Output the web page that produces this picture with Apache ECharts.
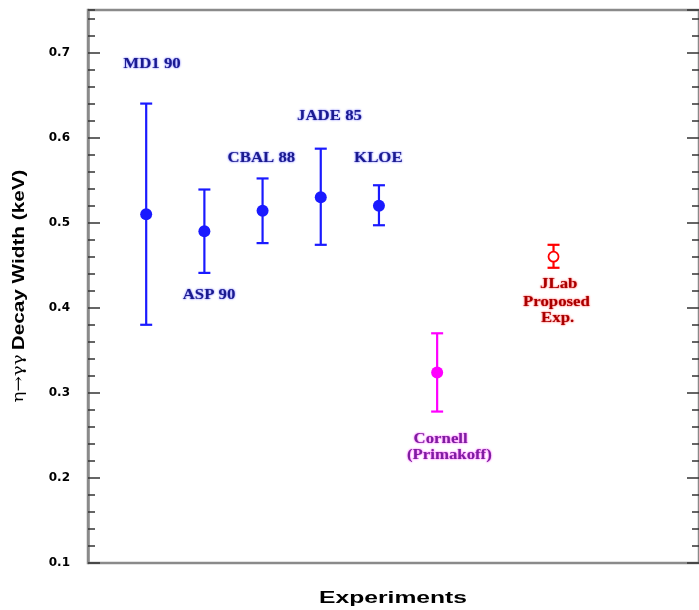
<!DOCTYPE html>
<html>
<head>
<meta charset="utf-8">
<script src="https://cdn.jsdelivr.net/npm/echarts@6/dist/echarts.min.js"></script>
<style>
  html, body { margin: 0; padding: 0; background: #fff; }
  #chart { width: 699px; height: 610px; }
</style>
</head>
<body>
<div id="chart"></div>
<script>
// η→γγ decay width measurements (keV), one entry per experiment
const experiments = ['MD1 90', 'ASP 90', 'CBAL 88', 'JADE 85', 'KLOE', 'Cornell (Primakoff)', 'JLab Proposed Exp.'];
const slots = [1, 2, 3, 4, 5, 6, 8];              // place of each experiment along the axis
const widths = [0.51, 0.49, 0.514, 0.53, 0.52, 0.324, 0.46];
const errLow = [0.38, 0.441, 0.476, 0.474, 0.497, 0.278, 0.447];
const errHigh = [0.64, 0.539, 0.552, 0.587, 0.544, 0.37, 0.474];
const groups = ['past', 'past', 'past', 'past', 'past', 'primakoff', 'proposed'];
const yTicks = [0.1, 0.2, 0.3, 0.4, 0.5, 0.6, 0.7];

const groupStyle = {
  past:      { line: '#1a1aff', text: '#1b1b8e', halo: 'rgba(60,60,255,0.9)' },
  primakoff: { line: '#ff00ff', text: '#7d1fa0', halo: 'rgba(255,0,255,0.9)' },
  proposed:  { line: '#ff0000', text: '#a80000', halo: 'rgba(255,0,0,0.9)' }
};

// text lines next to each measurement, anchored in axis units
const labelLines = [
  { text: 'MD1 90',      at: [1.10, 0.686], g: 'past' },
  { text: 'ASP 90',      at: [2.08, 0.415], g: 'past' },
  { text: 'CBAL 88',     at: [2.98, 0.575], g: 'past' },
  { text: 'JADE 85',     at: [4.15, 0.625], g: 'past' },
  { text: 'KLOE',        at: [4.99, 0.575], g: 'past' },
  { text: 'Cornell',     at: [6.06, 0.245], g: 'primakoff' },
  { text: '(Primakoff)', at: [6.21, 0.226], g: 'primakoff' },
  { text: 'JLab',        at: [8.09, 0.427], g: 'proposed' },
  { text: 'Proposed',    at: [8.05, 0.406], g: 'proposed' },
  { text: 'Exp.',        at: [8.07, 0.387], g: 'proposed' }
];

const Y_MIN = 0.1, Y_MAX = 0.75;

const points = experiments.map((name, i) => ({
  name,
  value: [slots[i], widths[i], errLow[i], errHigh[i]],
  group: groups[i]
}));

function yAxisDef(position, interval, tickLen, showLabel, showLine) {
  return {
    type: 'value', position, min: Y_MIN, max: Y_MAX, interval, offset: 0,
    splitLine: { show: false },
    axisLine: { show: showLine, lineStyle: { color: '#8a8a8a', width: 2.5 } },
    axisTick: { show: true, inside: true, length: tickLen, lineStyle: { color: '#333', width: 1.5 } },
    axisLabel: {
      show: showLabel, showMaxLabel: false, margin: 18,
      color: '#000', fontFamily: 'DejaVu Sans', fontWeight: 'bold', fontSize: 12,
      formatter: v => (yTicks.some(t => Math.abs(t - v) < 1e-9) ? v.toFixed(1) : '')
    }
  };
}

const chart = echarts.init(document.getElementById('chart'), null, { renderer: 'canvas' });

chart.setOption({
  animation: false,
  backgroundColor: '#fff',
  grid: {
    left: 88, right: -1, top: 10, bottom: 47,
    show: true, borderColor: '#8a8a8a', borderWidth: 2.5, backgroundColor: 'transparent'
  },
  xAxis: {
    type: 'value', min: 0, max: 10.5,
    axisLine: { show: false }, axisTick: { show: false },
    axisLabel: { show: false }, splitLine: { show: false }
  },
  yAxis: [
    yAxisDef('left', 0.1, 12, true, true),
    yAxisDef('left', 0.02, 7, false, false),
    yAxisDef('right', 0.1, 12, false, false),
    yAxisDef('right', 0.02, 7, false, false)
  ],
  graphic: [
    {
      type: 'text', x: 393, y: 598, scaleX: 1.45,
      style: {
        text: 'Experiments', fill: '#000', align: 'center', verticalAlign: 'middle',
        font: 'bold 17px "Liberation Sans", Arial, sans-serif'
      }
    },
    {
      type: 'text', x: 19, y: 286, rotation: Math.PI / 2, scaleX: 1.22,
      style: {
        text: '{s|η→γγ} {b|Decay Width (keV)}', fill: '#000', align: 'center', verticalAlign: 'middle',
        rich: {
          s: { font: '15px "DejaVu Serif", serif', fill: '#000' },
          b: { font: 'bold 17px "Liberation Sans", Arial, sans-serif', fill: '#000' }
        }
      }
    }
  ],
  series: [
    {
      // vertical error bars with caps
      type: 'custom',
      xAxisIndex: 0, yAxisIndex: 0,
      data: points,
      encode: { x: 0, y: [1, 2, 3] },
      renderItem(params, api) {
        const x = api.value(0);
        const lo = api.coord([x, api.value(2)]);
        const hi = api.coord([x, api.value(3)]);
        const color = groupStyle[points[params.dataIndex].group].line;
        const cap = 6;
        const style = { stroke: color, lineWidth: 2.2 };
        return {
          type: 'group',
          children: [
            { type: 'line', shape: { x1: lo[0], y1: lo[1], x2: hi[0], y2: hi[1] }, style },
            { type: 'line', shape: { x1: lo[0] - cap, y1: lo[1], x2: lo[0] + cap, y2: lo[1] }, style },
            { type: 'line', shape: { x1: hi[0] - cap, y1: hi[1], x2: hi[0] + cap, y2: hi[1] }, style }
          ]
        };
      },
      z: 2
    },
    {
      // measured central values
      type: 'scatter',
      xAxisIndex: 0, yAxisIndex: 0,
      data: points.map(p => {
        const c = groupStyle[p.group].line;
        const open = p.group === 'proposed';
        return {
          name: p.name,
          value: [p.value[0], p.value[1]],
          symbol: 'circle',
          symbolSize: open ? 10 : 12,
          itemStyle: open
            ? { color: '#fff', borderColor: c, borderWidth: 1.8, opacity: 1 }
            : { color: c, borderWidth: 0, opacity: 1 }
        };
      }),
      z: 3
    },
    {
      // experiment names
      type: 'custom',
      xAxisIndex: 0, yAxisIndex: 0,
      data: labelLines.map(l => l.at),
      renderItem(params, api) {
        const l = labelLines[params.dataIndex];
        const p = api.coord([api.value(0), api.value(1)]);
        const st = groupStyle[l.g];
        return {
          type: 'text', x: p[0], y: p[1], scaleX: 1.2,
          style: {
            text: l.text, fill: st.text,
            font: 'bold 14px "Liberation Serif", "Times New Roman", serif',
            align: 'center', verticalAlign: 'middle',
            textShadowColor: st.halo, textShadowBlur: 2
          }
        };
      },
      z: 4
    }
  ]
});
</script>
</body>
</html>
